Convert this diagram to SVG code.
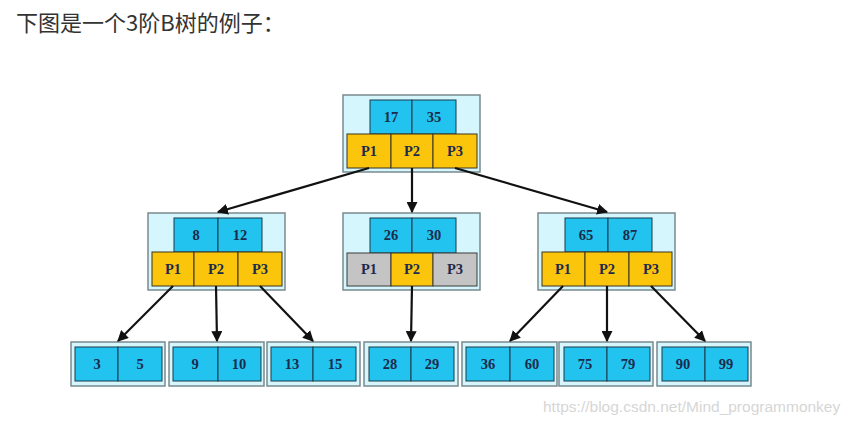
<svg xmlns="http://www.w3.org/2000/svg" width="855" height="424" viewBox="0 0 855 424">
<defs>
<marker id="ah" viewBox="0 0 10 10" refX="9" refY="5" markerWidth="5" markerHeight="5" orient="auto" markerUnits="strokeWidth">
<path d="M0,0 L10,5 L0,10 z" fill="#111"/>
</marker>
<style>
.outer{fill:#d4f6fc;stroke:#7a8a8e;stroke-width:1.5}
.key{fill:#22c3ef;stroke:#1b3a4a;stroke-width:1}
.ptr{fill:#fbc50c;stroke:#3a3320;stroke-width:1}
.gray{fill:#c4c4c4;stroke:#3a3a3a;stroke-width:1}
.t{font-family:"Liberation Serif",serif;font-weight:bold;font-size:14.5px;fill:#1c2a4c;text-anchor:middle}
.edge{stroke:#111;stroke-width:2.2;fill:none;marker-end:url(#ah)}
.title{font-family:"Noto Sans CJK SC","Liberation Sans",sans-serif;font-size:22px;fill:#333}
.wm{font-family:"Liberation Sans",sans-serif;font-size:15.5px;fill:#d6d6d6}
</style>
</defs>
<rect width="855" height="424" fill="#fff"/>
<text class="title" x="16" y="31">下图是一个3阶B树的例子：</text>

<g id="root">
<rect class="outer" x="343" y="95" width="137" height="77"/>
<rect class="key" x="370" y="100" width="42" height="34"/><rect class="key" x="412" y="100" width="44" height="34"/>
<rect class="ptr" x="347" y="134" width="44" height="34"/><rect class="ptr" x="391" y="134" width="42" height="34"/><rect class="ptr" x="433" y="134" width="44" height="34"/>
<text class="t" x="391" y="122">17</text><text class="t" x="434" y="122">35</text>
<text class="t" x="369" y="156">P1</text><text class="t" x="412" y="156">P2</text><text class="t" x="455" y="156">P3</text>
</g>

<g id="n8_12">
<rect class="outer" x="148" y="213" width="137" height="77"/>
<rect class="key" x="174" y="218" width="44" height="34"/><rect class="key" x="218" y="218" width="44" height="34"/>
<rect class="ptr" x="152" y="252" width="42" height="34"/><rect class="ptr" x="194" y="252" width="44" height="34"/><rect class="ptr" x="238" y="252" width="44" height="34"/>
<text class="t" x="196" y="240">8</text><text class="t" x="240" y="240">12</text>
<text class="t" x="173" y="274">P1</text><text class="t" x="216" y="274">P2</text><text class="t" x="260" y="274">P3</text>
</g>

<g id="n26_30">
<rect class="outer" x="343" y="213" width="137" height="77"/>
<rect class="key" x="370" y="218" width="42" height="35"/><rect class="key" x="412" y="218" width="44" height="35"/>
<rect class="gray" x="347" y="253" width="44" height="33"/><rect class="ptr" x="391" y="253" width="42" height="33"/><rect class="gray" x="433" y="253" width="44" height="33"/>
<text class="t" x="391" y="240">26</text><text class="t" x="434" y="240">30</text>
<text class="t" x="369" y="274">P1</text><text class="t" x="412" y="274">P2</text><text class="t" x="455" y="274">P3</text>
</g>

<g id="n65_87">
<rect class="outer" x="538" y="213" width="137" height="77"/>
<rect class="key" x="565" y="218" width="43" height="34"/><rect class="key" x="608" y="218" width="44" height="34"/>
<rect class="ptr" x="542" y="252" width="43" height="34"/><rect class="ptr" x="585" y="252" width="44" height="34"/><rect class="ptr" x="629" y="252" width="43" height="34"/>
<text class="t" x="586" y="240">65</text><text class="t" x="630" y="240">87</text>
<text class="t" x="563" y="274">P1</text><text class="t" x="607" y="274">P2</text><text class="t" x="651" y="274">P3</text>
</g>

<g id="leaf3_5">
<rect class="outer" x="71" y="342" width="94" height="44"/>
<rect class="key" x="75" y="347" width="43" height="34"/><rect class="key" x="118" y="347" width="44" height="34"/>
<text class="t" x="97" y="369">3</text><text class="t" x="140" y="369">5</text>
</g>
<g id="leaf9_10">
<rect class="outer" x="169" y="342" width="95" height="44"/>
<rect class="key" x="173" y="347" width="45" height="34"/><rect class="key" x="218" y="347" width="43" height="34"/>
<text class="t" x="195" y="369">9</text><text class="t" x="239" y="369">10</text>
</g>
<g id="leaf13_15">
<rect class="outer" x="267" y="342" width="93" height="44"/>
<rect class="key" x="271" y="347" width="42" height="34"/><rect class="key" x="313" y="347" width="43" height="34"/>
<text class="t" x="292" y="369">13</text><text class="t" x="335" y="369">15</text>
</g>
<g id="leaf28_29">
<rect class="outer" x="364" y="342" width="94" height="44"/>
<rect class="key" x="369" y="347" width="42" height="34"/><rect class="key" x="411" y="347" width="43" height="34"/>
<text class="t" x="390" y="369">28</text><text class="t" x="432" y="369">29</text>
</g>
<g id="leaf36_60">
<rect class="outer" x="462" y="342" width="95" height="44"/>
<rect class="key" x="466" y="347" width="44" height="34"/><rect class="key" x="510" y="347" width="44" height="34"/>
<text class="t" x="488" y="369">36</text><text class="t" x="532" y="369">60</text>
</g>
<g id="leaf75_79">
<rect class="outer" x="559" y="342" width="94" height="44"/>
<rect class="key" x="564" y="347" width="43" height="34"/><rect class="key" x="607" y="347" width="43" height="34"/>
<text class="t" x="585" y="369">75</text><text class="t" x="628" y="369">79</text>
</g>
<g id="leaf90_99">
<rect class="outer" x="657" y="342" width="94" height="44"/>
<rect class="key" x="662" y="347" width="43" height="34"/><rect class="key" x="705" y="347" width="43" height="34"/>
<text class="t" x="683" y="369">90</text><text class="t" x="726" y="369">99</text>
</g>

<g id="connectors">
<line class="edge" x1="369" y1="168" x2="218" y2="212"/>
<line class="edge" x1="412" y1="168" x2="412" y2="212"/>
<line class="edge" x1="455" y1="168" x2="607" y2="212"/>
<line class="edge" x1="173" y1="286" x2="118" y2="341"/>
<line class="edge" x1="216" y1="286" x2="217" y2="341"/>
<line class="edge" x1="260" y1="286" x2="313" y2="341"/>
<line class="edge" x1="412" y1="286" x2="411" y2="341"/>
<line class="edge" x1="563" y1="286" x2="510" y2="341"/>
<line class="edge" x1="607" y1="286" x2="607" y2="341"/>
<line class="edge" x1="651" y1="286" x2="705" y2="341"/>
</g>

<text class="wm" x="543" y="412">https://blog.csdn.net/Mind_programmonkey</text>
</svg>
